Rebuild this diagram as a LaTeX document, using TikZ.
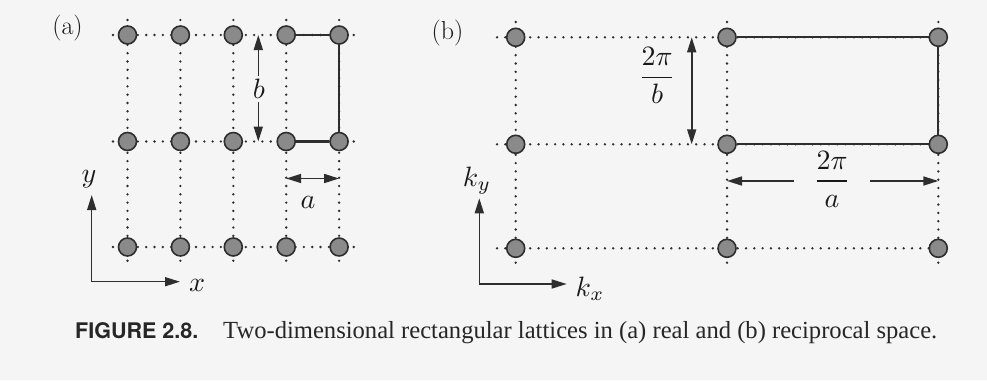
\documentclass[tikz,border=0pt]{standalone}
\usepackage{fontspec}
\setmainfont{Liberation Serif}
\newfontfamily\capsans{TeX Gyre Heros}
\newfontfamily\lmr{Latin Modern Roman}
\usetikzlibrary{arrows.meta}
\definecolor{ink}{HTML}{2E2E2E}
\definecolor{atomfill}{HTML}{8A8A8A}
\definecolor{paper}{HTML}{F5F5F5}
\begin{document}
\begin{tikzpicture}[x=1pt,y=-1pt,
 atom/.style={circle,draw=ink,fill=atomfill,line width=1.6pt,minimum size=18pt,inner sep=0pt},
 dotline/.style={draw=ink,line width=2.6pt,dash pattern=on 0pt off 8.3pt,line cap=round},
 cell/.style={draw=ink,line width=2.1pt},
 dimarrow/.style={draw=ink,line width=1.6pt,{Triangle[length=15pt,width=9pt]}-{Triangle[length=15pt,width=9pt]}},
 axisarrow/.style={draw=ink,line width=1.5pt,-{Triangle[length=15pt,width=9pt]}},
 mathlbl/.style={inner sep=0pt,text=black!90,font=\fontsize{10}{12}\selectfont,scale=2.8},
 panellbl/.style={inner sep=0pt,text=black!90,font=\lmr\fontsize{26}{30}\selectfont},
]
\fill[paper] (0,0) rectangle (987,380);
\useasboundingbox (0,0) rectangle (987,380);

% ---------- panel (a): coordinates ----------
\foreach \i/\x in {1/127.5,2/180.4,3/233.3,4/286.2,5/339.1}{
  \coordinate (aT\i) at (\x,20);
  \coordinate (aB\i) at (\x,263);
  \foreach \j/\y in {1/35,2/141.5,3/247}{\coordinate (pa\i\j) at (\x,\y);}
}
\foreach \j/\y in {1/35,2/141.5,3/247}{
  \coordinate (aL\j) at (113,\y);
  \coordinate (aR\j) at (355,\y);
}
\foreach \j in {1,2,3}{\draw[dotline] (aL\j) -- (aR\j);}
\foreach \i in {1,...,5}{\draw[dotline] (aT\i) -- (aB\i);}
\foreach \i in {1,...,5}{\foreach \j in {1,2,3}{\node[atom] (a\i\j) at (pa\i\j) {};}}
\draw[cell] (a41) -- (a51) -- (a52) -- (a42) -- cycle;

% b arrow
\coordinate (abT) at (258.3,35);
\coordinate (abB) at (258.3,141.5);
\draw[dimarrow] (abT) -- (abB);
\node[mathlbl,fill=paper,inner ysep=1pt,inner xsep=0.4pt] (lblb) at (259,89) {$b$};
% a arrow
\coordinate (aaL) at (286.2,178.5);
\coordinate (aaR) at (339.1,178.5);
\draw[dimarrow] (aaL) -- (aaR);
\node[mathlbl] (lbla) at (308,202) {$a$};
% axes
\coordinate (aO) at (91.7,281.7);
\coordinate (aY) at (91.7,195);
\coordinate (aX) at (180,281.7);
\draw[axisarrow] (aO) -- (aY);
\draw[axisarrow] (aO) -- (aX);
\node[mathlbl] (lbly) at (89,179) {$y$};
\node[mathlbl] (lblx) at (197,285) {$x$};
\node[panellbl] (pa) at (67.5,28) {(a)};

% ---------- panel (b) ----------
\foreach \i/\x in {1/515.7,2/727,3/938.3}{
  \coordinate (bT\i) at (\x,22);
  \coordinate (bB\i) at (\x,267);
  \foreach \j/\y in {1/37.3,2/144.3,3/248.3}{\coordinate (pb\i\j) at (\x,\y);}
}
\foreach \j/\y in {1/37.3,2/144.3,3/248.3}{
  \coordinate (bL\j) at (497,\y);
  \coordinate (bR\j) at (950,\y);
}
\foreach \j in {1,2,3}{\draw[dotline] (bL\j) -- (bR\j);}
\foreach \i in {1,2,3}{\draw[dotline] (bT\i) -- (bB\i);}
\foreach \i in {1,2,3}{\foreach \j in {1,2,3}{\node[atom] (b\i\j) at (pb\i\j) {};}}
\draw[cell] (b21) -- (b31) -- (b32) -- (b22) -- cycle;

% 2pi/b arrow
\coordinate (bbT) at (691.7,37.3);
\coordinate (bbB) at (691.7,144.3);
\draw[dimarrow] (bbT) -- (bbB);
\node[mathlbl,anchor=base] (lblbb) at (657,84.2) {$\displaystyle\frac{2\pi}{b}$};
% 2pi/a arrow
\coordinate (baL) at (727,181);
\coordinate (baR) at (938.3,181);
\draw[dimarrow] (baL) -- (baR);
\node[mathlbl,anchor=base,fill=paper,inner xsep=6.8pt,inner ysep=0pt] (lblba) at (832,188) {$\displaystyle\frac{2\pi}{a}$};
% axes
\coordinate (bO) at (479.3,284);
\coordinate (bY) at (479.3,198.3);
\coordinate (bX) at (566.7,284);
\draw[axisarrow] (bO) -- (bY);
\draw[axisarrow] (bO) -- (bX);
\node[mathlbl] (lblky) at (477,181) {$k_y$};
\node[mathlbl] (lblkx) at (590,289) {$k_x$};
\node[panellbl] (pb) at (447.5,33) {(b)};

% ---------- caption ----------
\node[anchor=base west,inner sep=0pt,text=black!85,font=\capsans\bfseries\fontsize{21.5}{26}\selectfont] (capnum) at (75,338) {FIGURE 2.8.};
\node[anchor=base west,inner sep=0pt,text=black!85,font=\rmfamily\fontsize{24.6}{29}\selectfont] (captext) at (223,338) {Two-dimensional rectangular lattices in (a) real and (b) reciprocal space.};
\end{tikzpicture}
\end{document}
